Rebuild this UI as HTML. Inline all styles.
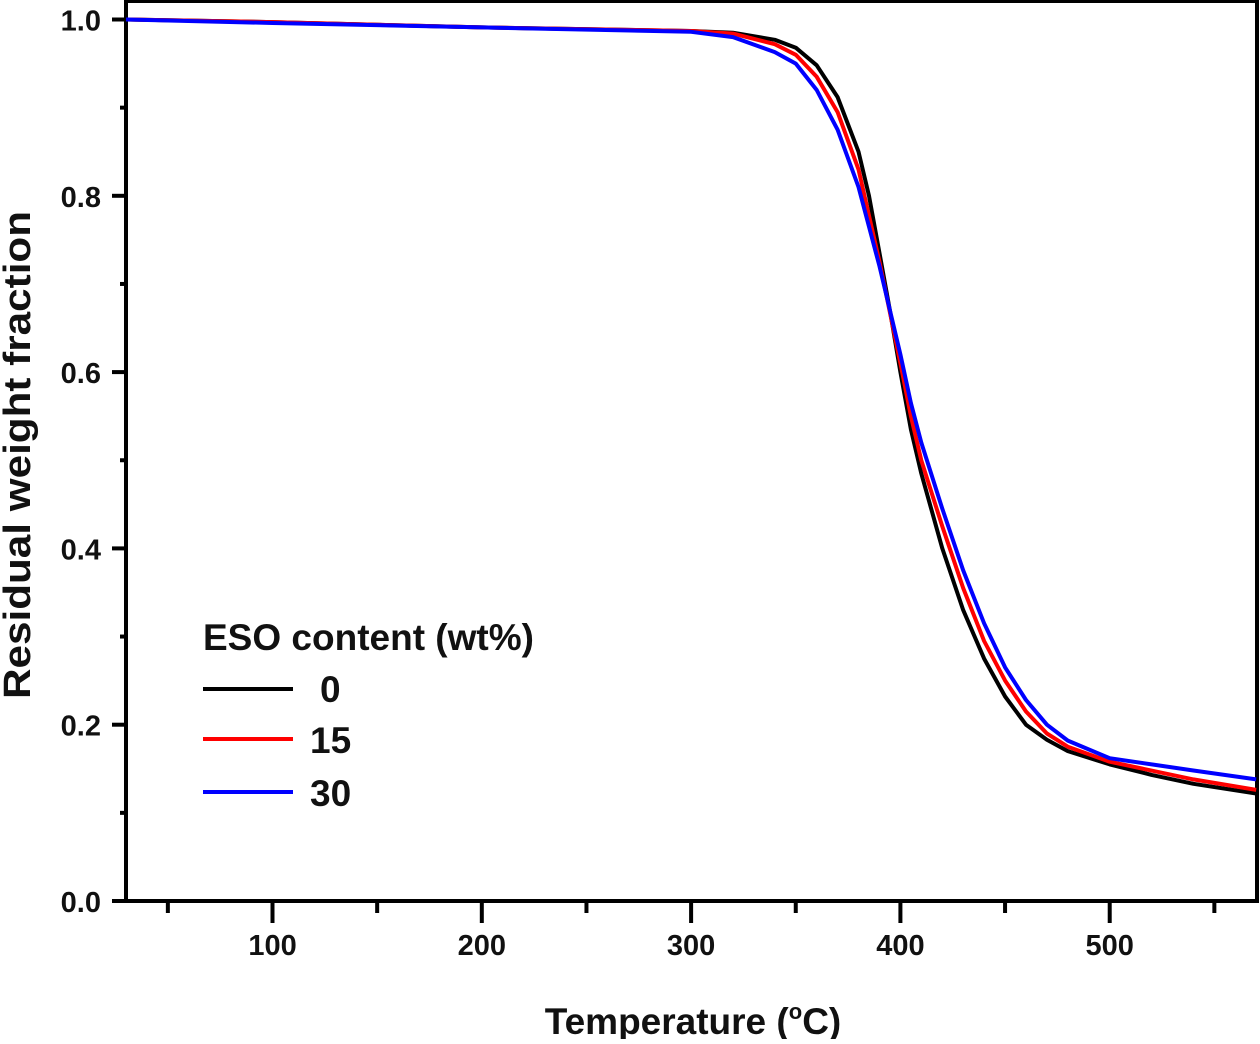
<!DOCTYPE html>
<html><head><meta charset="utf-8"><style>
body{margin:0;background:#fff}
svg text{font-family:"Liberation Sans",Arial,sans-serif;font-weight:bold;fill:#111}
</style></head><body>
<svg id="chart" width="1260" height="1039" viewBox="0 0 1260 1039" xmlns="http://www.w3.org/2000/svg">
<g id="axes"></g>
<g id="series"></g>
<text transform="translate(30,455) rotate(-90)" text-anchor="middle" font-size="38" textLength="488" lengthAdjust="spacingAndGlyphs">Residual weight fraction</text>
<text x="693" y="1034" text-anchor="middle" font-size="37">Temperature (<tspan font-size="22" dy="-15">o</tspan><tspan dy="15">C)</tspan></text>
<g>
<text x="203" y="650" font-size="37">ESO content (wt%)</text>
<line x1="203" x2="293" y1="689" y2="689" stroke="#000" stroke-width="4"/>
<text x="320" y="702" font-size="37">0</text>
<line x1="203" x2="293" y1="739" y2="739" stroke="#f00" stroke-width="4"/>
<text x="310" y="753" font-size="37">15</text>
<line x1="203" x2="293" y1="792" y2="792" stroke="#00f" stroke-width="4"/>
<text x="310" y="806" font-size="37">30</text>
</g>
</svg>
<script>
const xTicks=[100,200,300,400,500];
const yTicks=[0.0,0.2,0.4,0.6,0.8,1.0];
const t0=[30,100,200,300,320,340,350,360,370,380,385,390,395,400,405,410,420,430,440,450,460,470,480,500,520,540,570];
const w0=[1.0,0.997,0.991,0.987,0.985,0.977,0.968,0.948,0.912,0.85,0.8,0.735,0.67,0.60,0.535,0.485,0.40,0.33,0.275,0.232,0.2,0.183,0.17,0.155,0.143,0.133,0.122];
const t15=[30,100,200,300,320,340,350,360,370,380,390,400,405,410,420,430,440,450,460,470,480,500,540,570];
const w15=[1.0,0.997,0.991,0.987,0.984,0.972,0.96,0.935,0.895,0.83,0.725,0.61,0.55,0.50,0.425,0.355,0.295,0.25,0.215,0.19,0.175,0.158,0.138,0.126];
const t30=[30,100,200,300,320,340,350,360,370,380,390,400,405,410,420,430,440,450,460,470,480,500,540,570];
const w30=[1.0,0.996,0.991,0.986,0.98,0.963,0.95,0.92,0.875,0.81,0.72,0.62,0.565,0.52,0.445,0.375,0.315,0.265,0.228,0.2,0.182,0.162,0.148,0.138];
const X0=126,X1=1257,Y0=901,Y1=1;
const sx=v=>X0+(v-30)*2.093;
const sy=v=>901-v*881.5;
const NS="http://www.w3.org/2000/svg";
const ax=document.getElementById('axes'),se=document.getElementById('series');
function mk(tag,at,p){const e=document.createElementNS(NS,tag);for(const k in at)e.setAttribute(k,at[k]);p.appendChild(e);return e;}
const fr=mk('rect',{x:X0,y:Y1,width:X1-X0,height:Y0-Y1,fill:'none',stroke:'#000','stroke-width':4},ax);


for(let v=50;v<=550;v+=50){const maj=v%100===0;
const l=mk('line',{x1:sx(v),x2:sx(v),y1:Y0,y2:Y0+(maj?22:12),stroke:'#000','stroke-width':4},ax);

}
xTicks.forEach(v=>{const t=mk('text',{x:sx(v),y:955,'text-anchor':'middle','font-size':29},ax);t.textContent=v;

});
for(let v=0;v<=1.001;v+=0.1){const maj=Math.round(v*10)%2===0;
const l=mk('line',{x1:X0-(maj?14:6),x2:X0,y1:sy(v),y2:sy(v),stroke:'#000','stroke-width':4},ax);

}
yTicks.forEach(v=>{const t=mk('text',{x:101,y:sy(v)+11,'text-anchor':'end','font-size':29},ax);t.textContent=v.toFixed(1);

});
[[t0,w0,'#000','series-0wt'],[t15,w15,'#f00','series-15wt'],[t30,w30,'#00f','series-30wt']].forEach(([t,w,c,n])=>{
const d=t.map((v,i)=>(i?'L':'M')+sx(v).toFixed(1)+','+sy(w[i]).toFixed(1)).join('');
const p=mk('path',{d:d,fill:'none',stroke:c,'stroke-width':4,'stroke-linejoin':'round'},se);

});
</script>
</body></html>
